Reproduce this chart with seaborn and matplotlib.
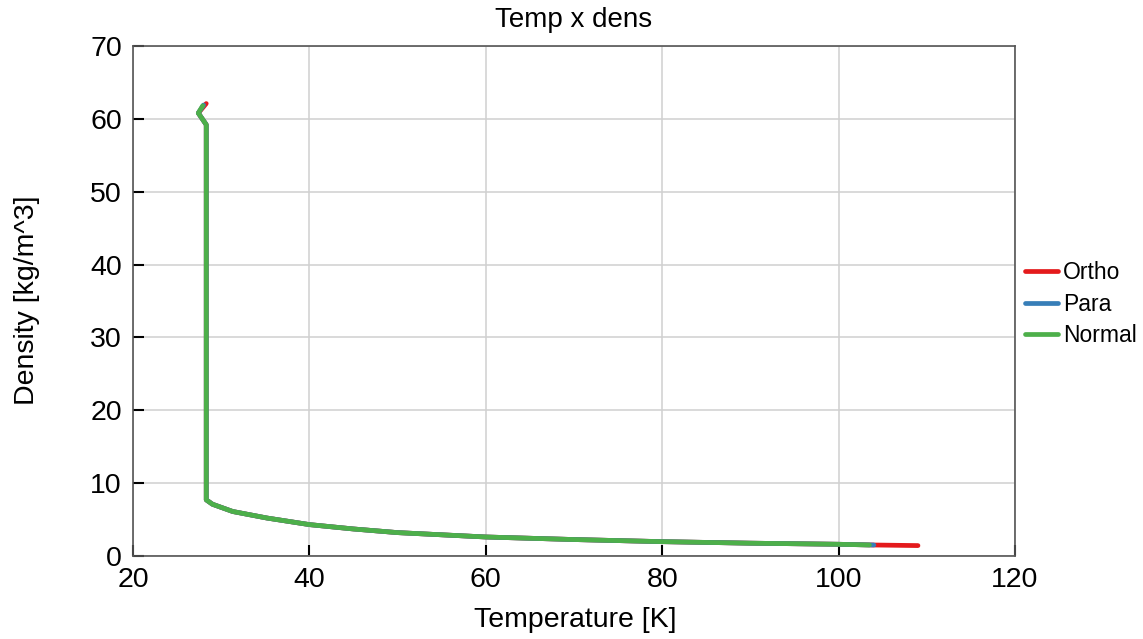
import matplotlib
matplotlib.use("Agg")
import matplotlib.pyplot as plt
import seaborn as sns
import pandas as pd

# ---- data ----
t_ortho = [28.3, 27.4, 28.3, 28.3, 29.0, 31.3, 35.2, 40.0, 45.0, 50.0, 60.0, 70.0, 80.0, 90.0, 100.0, 104.0, 109.0]
d_ortho = [62.1, 60.8, 59.2, 7.7, 7.1, 6.1, 5.2, 4.3, 3.7, 3.2, 2.6, 2.25, 1.96, 1.75, 1.6, 1.5, 1.42]

t_para = [28.0, 27.4, 28.3, 28.3, 29.0, 31.3, 35.2, 40.0, 45.0, 50.0, 60.0, 70.0, 80.0, 90.0, 100.0, 104.0]
d_para = [61.9, 60.8, 59.2, 7.7, 7.1, 6.1, 5.2, 4.3, 3.7, 3.2, 2.6, 2.25, 1.96, 1.75, 1.6, 1.5]

t_normal = [27.9, 27.4, 28.3, 28.3, 29.0, 31.3, 35.2, 40.0, 45.0, 50.0, 60.0, 70.0, 80.0, 90.0, 100.0, 103.5]
d_normal = [61.8, 60.8, 59.2, 7.7, 7.1, 6.1, 5.2, 4.3, 3.7, 3.2, 2.6, 2.25, 1.96, 1.75, 1.6, 1.5]

series_names = ["Ortho", "Para", "Normal"]
x_ticks = [20, 40, 60, 80, 100, 120]
y_ticks = [0, 10, 20, 30, 40, 50, 60, 70]

frames = []
for name, t, d in zip(series_names, [t_ortho, t_para, t_normal], [d_ortho, d_para, d_normal]):
    frames.append(pd.DataFrame({"Temperature": t, "Density": d, "Type": name}))
df = pd.concat(frames, ignore_index=True)

sns.set_style("ticks")
plt.rcParams["font.family"] = ["Liberation Sans", "DejaVu Sans"]
plt.rcParams["text.color"] = "black"
plt.rcParams["axes.labelcolor"] = "black"

fig = plt.figure(figsize=(11.43, 6.39), dpi=100)
ax = fig.add_axes([0.1164, 0.130, 0.888 - 0.1164, 0.928 - 0.130])

palette = {"Ortho": "#e41a1c", "Para": "#377eb8", "Normal": "#4daf4a"}
sns.lineplot(data=df, x="Temperature", y="Density", hue="Type", hue_order=series_names,
             palette=palette, sort=False, estimator=None, units="Type",
             linewidth=3.4, ax=ax, legend=True)

ax.set_xlim(20, 120)
ax.set_ylim(0, 70)
ax.set_xticks(x_ticks)
ax.set_yticks(y_ticks)
ax.grid(True, color="#d0d0d0", linewidth=1.1)
ax.set_axisbelow(True)
ax.tick_params(direction="in", length=8, width=1.5, labelsize=20.5, colors="black",
               top=False, right=False, pad=8)
for s in ax.spines.values():
    s.set_visible(True)
    s.set_color("#555555")
    s.set_linewidth(1.2)

ax.set_title("Temp x dens", fontsize=20, y=1.051, va="center", pad=0, color="black")
ax.set_xlabel("Temperature [K]", fontsize=20.5, va="center", color="black")
ax.xaxis.set_label_coords(0.501, -0.125)
ax.set_ylabel("Density [kg/m^3]", fontsize=20.5, va="center", color="black")
ax.yaxis.set_label_coords(-0.120, 0.502)

leg = ax.legend(loc="center left", bbox_to_anchor=(1.001, 0.494), frameon=False,
                fontsize=16.5, handlelength=1.44, handletextpad=0.22, labelspacing=0.38,
                borderaxespad=0.0)
for txt in leg.get_texts():
    txt.set_color("black")
for line in leg.get_lines():
    line.set_linewidth(3.4)

fig.savefig("out.png", dpi=100)
